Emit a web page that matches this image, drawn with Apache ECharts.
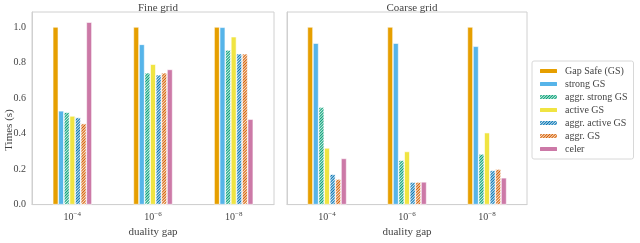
<!DOCTYPE html>
<html><head><meta charset="utf-8">
<script src="https://cdn.jsdelivr.net/npm/echarts@6/dist/echarts.min.js"></script>
<style>html,body{margin:0;padding:0;background:#fff}#c{width:640px;height:243px}</style>
</head><body><div id="c"></div>
<script>
const exponents = ['−4', '−6', '−8'];
const seriesNames = ['Gap Safe (GS)', 'strong GS', 'aggr. strong GS', 'active GS', 'aggr. active GS', 'aggr. GS', 'celer'];
const colors = ['#E69F00', '#56B4E9', '#009E73', '#F0E442', '#0072B2', '#D55E00', '#CC79A7'];
const hatched = [false, false, true, false, true, true, false];
const fineGrid = [
  [1.0, 1.0, 1.0],
  [0.528, 0.902, 0.998],
  [0.52, 0.742, 0.87],
  [0.499, 0.79, 0.945],
  [0.49, 0.731, 0.849],
  [0.456, 0.742, 0.849],
  [1.027, 0.761, 0.481]
];
const coarseGrid = [
  [1.0, 1.0, 1.0],
  [0.909, 0.909, 0.891],
  [0.549, 0.25, 0.285],
  [0.319, 0.299, 0.405],
  [0.171, 0.127, 0.193],
  [0.144, 0.127, 0.2],
  [0.26, 0.128, 0.151]
];
const yTicks = [0, 0.2, 0.4, 0.6, 0.8, 1.0];

const FONT = 'Liberation Serif';
const txt = '#444';
const axisLine = {show: true, lineStyle: {color: '#d0d0d0', width: 1}};

function tint(hex, a) {
  const n = parseInt(hex.slice(1), 16);
  const r = (n >> 16) & 255, g = (n >> 8) & 255, b = n & 255;
  const m = c => Math.round(255 - (255 - c) * a);
  return 'rgb(' + m(r) + ',' + m(g) + ',' + m(b) + ')';
}

function xAxis(idx) {
  return {
    type: 'category', gridIndex: idx, data: exponents,
    axisLine: axisLine, axisTick: {show: false},
    axisLabel: {
      margin: 6, interval: 0,
      formatter: v => '{b|10}{s|' + v + '}',
      rich: {b: {fontFamily: FONT, fontSize: 10, color: txt},
             s: {fontFamily: FONT, fontSize: 7, color: txt, padding: [0, 0, 6, 0]}}
    },
    name: 'duality gap', nameLocation: 'middle', nameGap: 21,
    nameTextStyle: {fontFamily: FONT, fontSize: 11, color: txt}
  };
}
function yAxis(idx, labels) {
  return {
    type: 'value', gridIndex: idx, min: 0, max: 1.084, interval: 0.2,
    axisLine: axisLine, axisTick: {show: false}, splitLine: {show: false},
    axisLabel: {show: labels, margin: 6, fontFamily: FONT, fontSize: 10, color: txt,
      formatter: v => yTicks.some(t => Math.abs(t - v) < 1e-6) ? v.toFixed(1) : ''}
  };
}
const decalFor = c => ({symbol: 'rect', symbolSize: 1, color: c,
  dashArrayX: [1, 0], dashArrayY: [1, 1], rotation: -Math.PI / 4});

const series = [];
[fineGrid, coarseGrid].forEach((set, g) => {
  set.forEach((vals, i) => {
    series.push({
      type: 'bar', name: seriesNames[i], xAxisIndex: g, yAxisIndex: g,
      data: vals, barWidth: 5.6, barGap: '0%',
      itemStyle: hatched[i]
        ? {color: tint(colors[i], 0.2), borderColor: '#fff', borderWidth: 0.6, decal: decalFor(colors[i])}
        : {color: colors[i], borderColor: '#fff', borderWidth: 0.6}
    });
  });
});

const chart = echarts.init(document.getElementById('c'), null, {renderer: 'canvas'});
chart.setOption({
  animation: false,
  color: colors,
  title: [
    {text: 'Fine grid', left: 153, top: -2, textAlign: 'center', textStyle: {fontFamily: FONT, fontSize: 11, fontWeight: 'normal', color: txt}},
    {text: 'Coarse grid', left: 407, top: -2, textAlign: 'center', textStyle: {fontFamily: FONT, fontSize: 11, fontWeight: 'normal', color: txt}}
  ],
  grid: [
    {left: 32, top: 12, width: 242, height: 203, show: true, borderColor: '#d0d0d0', borderWidth: 1},
    {left: 287, top: 12, width: 240, height: 203, show: true, borderColor: '#d0d0d0', borderWidth: 1}
  ],
  xAxis: [xAxis(0), xAxis(1)],
  yAxis: [yAxis(0, true), yAxis(1, false)],
  legend: {
    orient: 'vertical', left: 532, top: 61, data: seriesNames,
    itemWidth: 19, itemHeight: 6, itemGap: 3,
    padding: [5, 6, 5, 6], borderColor: '#d8d8d8', borderWidth: 1, borderRadius: 2,
    textStyle: {fontFamily: FONT, fontSize: 10, color: txt, padding: [0, 0, 0, 2]}
  },
  graphic: [{
    type: 'text', x: 9, y: 130, rotation: Math.PI / 2,
    style: {text: 'Times (s)', font: '11px "Liberation Serif"', fill: txt, textAlign: 'center', textVerticalAlign: 'middle'}
  }],
  series: series
});
</script></body></html>
